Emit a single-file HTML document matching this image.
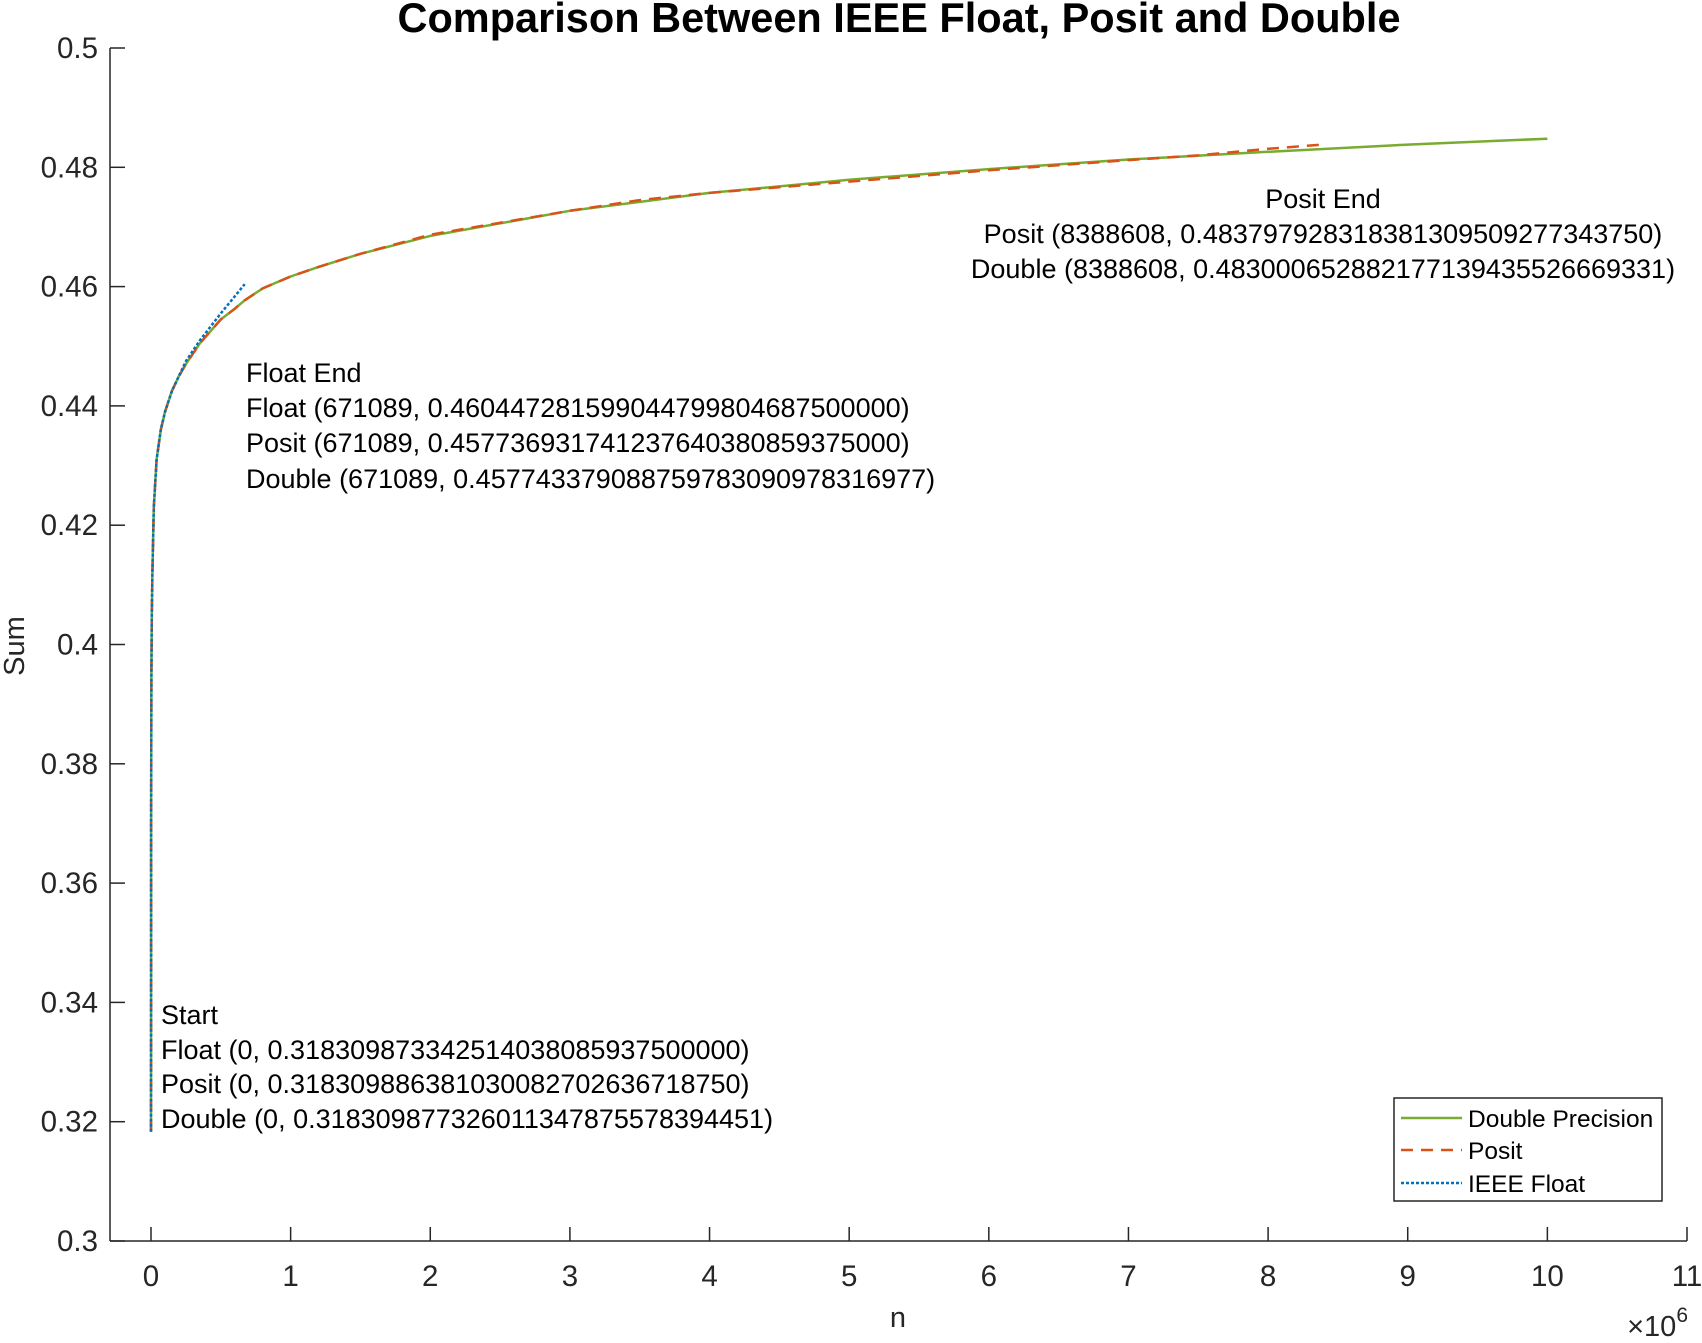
<!DOCTYPE html>
<html><head><meta charset="utf-8"><style>
body{margin:0;background:#fff;}
svg text{font-family:"Liberation Sans",Arial,sans-serif;}
</style></head><body>
<svg id="chart" width="1702" height="1338" xmlns="http://www.w3.org/2000/svg">
<rect width="1702" height="1338" fill="#fff"/>
<g id="axes"></g>
<g id="series"></g>
<text x="899" y="32" text-anchor="middle" font-size="41.5" font-weight="bold" fill="#000">Comparison Between IEEE Float, Posit and Double</text>
<text x="898" y="1327" text-anchor="middle" font-size="29" fill="#262626">n</text>
<text transform="translate(24,646) rotate(-90)" text-anchor="middle" font-size="29" fill="#262626">Sum</text>
<text x="1688" y="1336" text-anchor="end" font-size="29" fill="#262626">×10<tspan font-size="21" dy="-14">6</tspan></text>
<g font-size="27" fill="#000" text-anchor="middle">
<text x="1323" y="208">Posit End</text>
<text x="1323" y="243">Posit (8388608, 0.483797928318381309509277343750)</text>
<text x="1323" y="278">Double (8388608, 0.483000652882177139435526669331)</text></g>
<g font-size="27" fill="#000">
<text x="246" y="382">Float End</text>
<text x="246" y="417">Float (671089, 0.460447281599044799804687500000)</text>
<text x="246" y="452">Posit (671089, 0.457736931741237640380859375000)</text>
<text x="246" y="488">Double (671089, 0.457743379088759783090978316977)</text></g>
<g font-size="27" fill="#000">
<text x="161" y="1024">Start</text>
<text x="161" y="1059">Float (0, 0.318309873342514038085937500000)</text>
<text x="161" y="1093">Posit (0, 0.318309886381030082702636718750)</text>
<text x="161" y="1128">Double (0, 0.318309877326011347875578394451)</text></g>
<g>
<rect x="1394" y="1098" width="268" height="103" fill="#fff" stroke="#262626" stroke-width="1.5"/>
<line x1="1401" y1="1118" x2="1462" y2="1118" stroke="#77AC30" stroke-width="2.5"/>
<text x="1468" y="1127" font-size="24.5" fill="#000">Double Precision</text>
<line x1="1401" y1="1150" x2="1462" y2="1150" stroke="#D95319" stroke-width="2.5" stroke-dasharray="12,8"/>
<text x="1468" y="1159" font-size="24.5" fill="#000">Posit</text>
<line x1="1401" y1="1183" x2="1462" y2="1183" stroke="#0072BD" stroke-width="2.5" stroke-dasharray="3,2"/>
<text x="1468" y="1192" font-size="24.5" fill="#000">IEEE Float</text>
</g>
</svg>
<script>
const xTicks=[0,1,2,3,4,5,6,7,8,9,10,11];
const yTicks=[0.3,0.32,0.34,0.36,0.38,0.4,0.42,0.44,0.46,0.48,0.5];
const yTickLabels=["0.3","0.32","0.34","0.36","0.38","0.4","0.42","0.44","0.46","0.48","0.5"];
const doubleN=[0,0.0005,0.001,0.003,0.006,0.01,0.02,0.04,0.07,0.1,0.15,0.2,0.25,0.35,0.5,0.6,0.671,0.8,1,1.2,1.5,2,3,4,5,6,7,8,9,10];
const doubleY=[0.3183,0.345,0.37,0.395,0.405,0.412,0.423,0.431,0.436,0.439,0.4425,0.445,0.447,0.4505,0.4545,0.4563,0.4577,0.4597,0.4617,0.4633,0.4655,0.4685,0.4727,0.4757,0.4779,0.4797,0.4813,0.4826,0.4838,0.4848];
const positN=[0,0.0005,0.001,0.003,0.006,0.01,0.02,0.04,0.07,0.1,0.15,0.2,0.25,0.35,0.5,0.6,0.671,0.8,1,1.2,1.5,2,3,3.5,4,5,6,7,7.5,8,8.3886];
const positY=[0.3183,0.345,0.37,0.395,0.405,0.412,0.423,0.431,0.436,0.439,0.4425,0.445,0.447,0.4505,0.4545,0.4563,0.4577,0.4597,0.4617,0.4633,0.4655,0.4687,0.4727,0.4745,0.4757,0.4776,0.4795,0.4812,0.4820,0.4831,0.4838];
const floatN=[0,0.0005,0.001,0.003,0.006,0.01,0.02,0.04,0.07,0.1,0.15,0.2,0.25,0.35,0.5,0.671];
const floatY=[0.3183,0.345,0.37,0.395,0.405,0.412,0.423,0.431,0.436,0.439,0.4425,0.445,0.4475,0.451,0.4555,0.4604];
const L=110,R=1687,T=48,B=1241,x0=151,xs=(R-x0)/11;
function X(v){return x0+v*xs;}
function Y(v){return B-(v-0.3)/0.2*(B-T);}
const ns="http://www.w3.org/2000/svg";
const ax=document.getElementById('axes');
function mk(tag,attrs,parent){const e=document.createElementNS(ns,tag);for(const k in attrs)e.setAttribute(k,attrs[k]);parent.appendChild(e);return e;}
let a=mk('line',{x1:L,y1:B,x2:R,y2:B,stroke:'#262626','stroke-width':1.5},ax);


a=mk('line',{x1:L,y1:T,x2:L,y2:B,stroke:'#262626','stroke-width':1.5},ax);


xTicks.forEach(t=>{
  const l=mk('line',{x1:X(t),y1:B,x2:X(t),y2:B-14,stroke:'#262626','stroke-width':1.5},ax);
  
  
  const tx=mk('text',{x:X(t),y:B+45,'text-anchor':'middle','font-size':29.5,fill:'#262626'},ax);
  tx.textContent=String(t);
  
  
});
yTicks.forEach((t,i)=>{
  const l=mk('line',{x1:L,y1:Y(t),x2:L+15,y2:Y(t),stroke:'#262626','stroke-width':1.5},ax);
  
  
  const tx=mk('text',{x:L-12,y:Y(t)+10,'text-anchor':'end','font-size':29.5,fill:'#262626'},ax);
  tx.textContent=yTickLabels[i];
  
  
});
const sg=document.getElementById('series');
function path(ns_,ys,col,dash,name){
  let d=ns_.map((n,i)=>(i?'L':'M')+X(n).toFixed(1)+','+Y(ys[i]).toFixed(1)).join(' ');
  const p=mk('path',{d:d,fill:'none',stroke:col,'stroke-width':2.5,'stroke-linejoin':'round'},sg);
  if(dash)p.setAttribute('stroke-dasharray',dash);
  
  
}
path(doubleN,doubleY,'#77AC30',null,'double-precision-line');
path(positN,positY,'#D95319','12,8','posit-line');
path(floatN,floatY,'#0072BD','3,2','ieee-float-line');
</script>
</body></html>
